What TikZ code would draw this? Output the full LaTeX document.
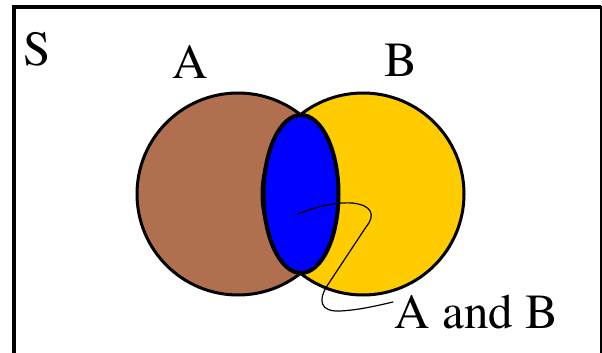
\documentclass[tikz,border=0pt]{standalone}
\usepackage{fontspec}
\newfontfamily\timesfont{TeX Gyre Termes}
\usetikzlibrary{shapes.geometric}
\definecolor{brownA}{RGB}{176,112,80}
\definecolor{yellowB}{RGB}{255,204,0}
\definecolor{blueAB}{RGB}{0,0,255}
\tikzset{
  setcircle/.style={circle, draw=black, line width=3pt, minimum size=202pt, inner sep=0pt},
  lens/.style={ellipse, draw=black, line width=4pt, fill=blueAB, minimum width=75pt, minimum height=158pt, inner sep=0pt},
  lbl/.style={anchor=base west, inner sep=0pt, font=\timesfont\fontsize{49}{58}\selectfont},
  callout/.style={line width=1.2pt, line cap=round}
}
\begin{document}
\begin{tikzpicture}[x=1pt,y=-1pt]
\useasboundingbox (0,0) rectangle (602,353);
% frame
\draw[line width=4pt] (14,353) -- (14,7) -- (601,7);
\draw[line width=2pt] (601,6) -- (601,353);
% sets
\node[setcircle, fill=brownA] (A) at (238,194) {};
\node[setcircle, fill=yellowB] (B) at (363,194) {};
\node[lens] (AB) at (301,194) {};
% labels
\node[lbl] (S) at (23,66) {S};
\node[lbl] (la) at (172,78) {A};
\node[lbl] (lb) at (384,77) {B};
\node[lbl] (lab) at (394.5,328) {A and B};
% callout
\coordinate (tip) at (296.5,214.5);
\coordinate (abend) at (393,302);
\draw[callout] (tip) .. controls (315,207) and (335,202) .. (352,203)
  .. controls (372,205) and (376,215) .. (366,227)
  -- (327,286)
  .. controls (318,300) and (320,312) .. (340,311)
  .. controls (360,310) and (380,305) .. (abend);
\end{tikzpicture}
\end{document}
